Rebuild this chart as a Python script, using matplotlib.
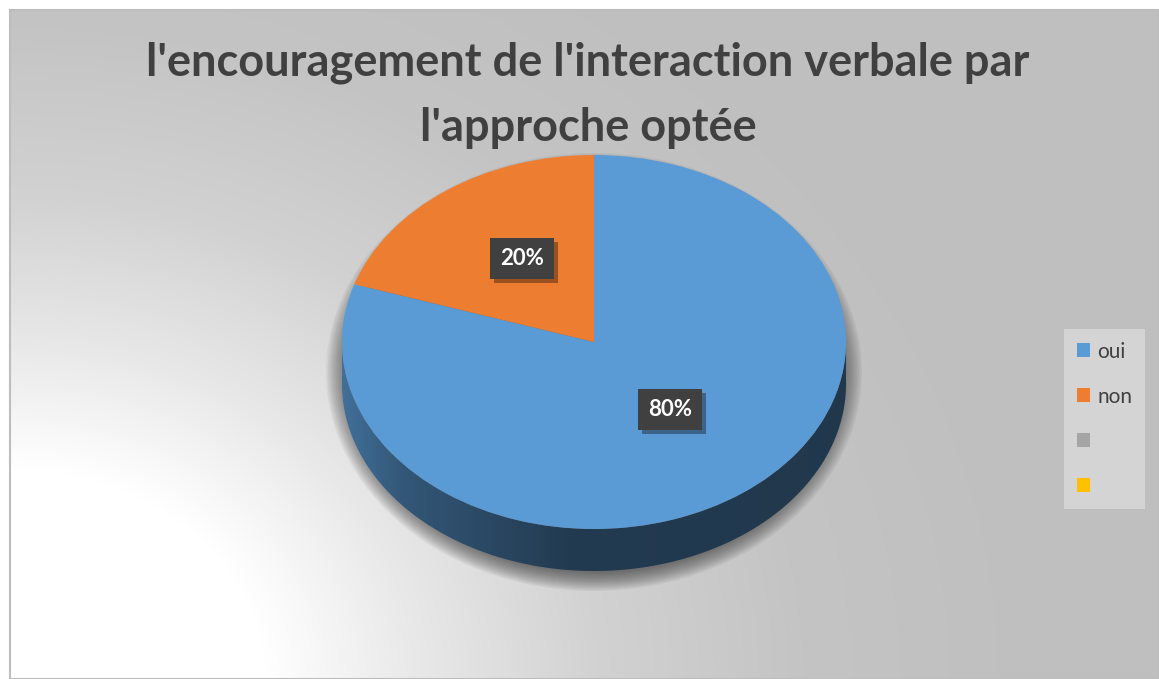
import numpy as np
import matplotlib.pyplot as plt
import matplotlib.patheffects as pe
from matplotlib.patches import Polygon, Ellipse, Rectangle
from matplotlib.transforms import Affine2D
from matplotlib.colors import to_rgb

categories = ["oui", "non", "", ""]
values = [80, 20, 0, 0]
colors = ["#5B9BD5", "#ED7D31", "#A5A5A5", "#FFC000"]
title = "l'encouragement de l'interaction verbale par\nl'approche optée"

W, H = 1159, 679
fig = plt.figure(figsize=(W / 100, H / 100), dpi=100)
fig.patch.set_facecolor("white")

# background axes, pixel units, y pointing up
ax = fig.add_axes([0, 0, 1, 1])
ax.axis("off")

# radial grey gradient, white in the bottom-left corner
x0, x1, y0, y1 = 10, W, 0, H - 10
xx, yy = np.meshgrid(np.arange(x0, x1) + 0.5, np.arange(y0, y1) + 0.5)
d = np.hypot(0.82 * (xx - x0), yy)
v = np.interp(d, [0, 210, 330, 480, 565, 650, 850],
              [255, 255, 233, 210, 203, 196, 191]) / 255
ax.imshow(np.dstack([v, v, v]), extent=(x0, x1, y0, y1), origin="lower",
          aspect="auto", zorder=0)
ax.add_patch(Rectangle((x0, y0), x1 - x0, y1 - y0, fill=False,
                       ec="#bdbdbd", lw=1.5, zorder=1))
ax.set_xlim(0, W)
ax.set_ylim(0, H)

ax.text(588, H - 42, title, ha="center", va="top", fontsize=32.5,
        fontweight="bold", family="Lato", color="#404040", linespacing=1.65,
        zorder=5)

# pie axes
pax = fig.add_axes([0, 0, 1, 1], zorder=2)
pax.patch.set_alpha(0)
wedges, _ = pax.pie(values, colors=colors, startangle=90, counterclock=False,
                    radius=1, center=(0, 0), wedgeprops=dict(linewidth=0))
pax.set_aspect("auto")
pax.axis("off")

cx, cy = 594, H - 342
rx, ry = 252, 187
depth = 42
top_tr = Affine2D().scale(rx, ry).translate(cx, cy) + pax.transData

# soft shadow under the pie
for k in range(16):
    f = 1.0 - k * 0.006
    pax.add_patch(Ellipse((cx, cy - 30), 2 * (rx + 16) * f, 2 * (ry + 32) * f,
                          fc="#333333", ec="none", alpha=0.06, zorder=1))

# side walls of the front half
for w, c in zip(wedges, colors):
    th = np.radians(np.linspace(w.theta1, w.theta2, 400))
    vis = np.sin(th) <= 0
    if vis.sum() < 2:
        continue
    th = th[vis]
    xs = cx + rx * np.cos(th)
    ys = cy + ry * np.sin(th)
    verts = np.vstack([np.column_stack([xs, ys]),
                       np.column_stack([xs[::-1], ys[::-1] - depth])])
    poly = Polygon(verts, closed=True, fc="none", ec="none", zorder=2)
    pax.add_patch(poly)
    gx = np.linspace(xs.min(), xs.max(), 300)
    u = (gx - (cx - rx)) / (2 * rx)
    fac = np.interp(u, [0, 0.12, 0.45, 1], [0.72, 0.56, 0.38, 0.36])
    grad = np.array(to_rgb(c))[None, None, :] * fac[None, :, None]
    im = pax.imshow(np.repeat(grad, 2, axis=0),
                    extent=(xs.min(), xs.max(), ys.min() - depth, ys.max()),
                    origin="lower", aspect="auto", zorder=2)
    im.set_clip_path(poly)

for w in wedges:
    w.set_transform(top_tr)
    w.set_zorder(3)

pax.set_xlim(0, W)
pax.set_ylim(0, H)

# percentage labels
total = sum(values)
for w, val in zip(wedges, values):
    if val == 0:
        continue
    mid = np.radians((w.theta1 + w.theta2) / 2)
    lx = cx + 2 + rx * 0.5 * np.cos(mid)
    ly = cy + 8 + ry * 0.5 * np.sin(mid)
    lab = "{:.0f}%".format(100 * val / total)
    t = pax.text(lx, ly, lab, ha="center", va="center", fontsize=16,
                 fontweight="bold", family="Lato", color="white", zorder=5,
                 bbox=dict(boxstyle="square,pad=0.45", fc="#404040", ec="none"))
    t.get_bbox_patch().set_path_effects([
        pe.SimplePatchShadow(offset=(3, -3), shadow_rgbFace="black", alpha=0.35),
        pe.Normal()])

leg = fig.legend(handles=wedges, labels=categories, loc="upper left",
                 bbox_to_anchor=(1064 / W, 1 - 329 / H), frameon=True,
                 fancybox=False, edgecolor="none", facecolor="#d4d4d4",
                 framealpha=1, labelspacing=1.2,
                 handlelength=0.65, handleheight=0.65, handletextpad=0.35,
                 borderpad=0.6, borderaxespad=0,
                 prop=dict(family="Lato", size=15))
for txt in leg.get_texts():
    txt.set_color("#404040")
leg.set_zorder(10)

plt.savefig("out.png", dpi=100)
